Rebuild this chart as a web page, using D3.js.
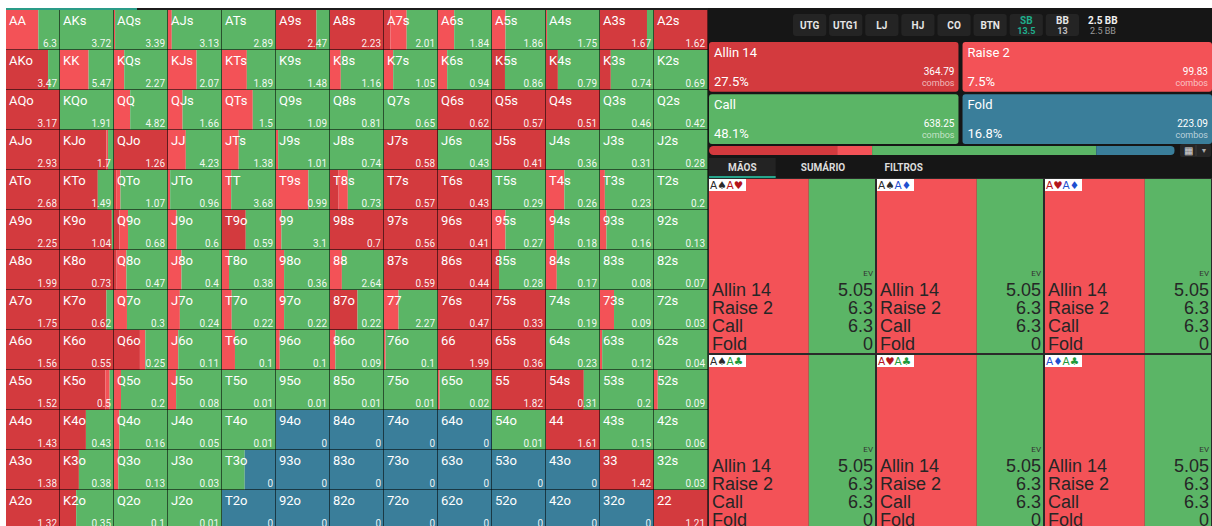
<!DOCTYPE html>
<html>
<head>
<meta charset="utf-8">
<script src="https://cdn.jsdelivr.net/npm/d3@7"></script>
<style>
body{margin:0;background:#fff;overflow:hidden}
svg{display:block;font-family:Roboto,"Liberation Sans",sans-serif}
</style>
</head>
<body>
<svg id="chart" width="1212" height="526"></svg>
<script>
// ---- data ----
const ranks = ["A","K","Q","J","T","9","8","7","6","5","4","3","2"]

// strategy frequencies (%) per hand cell, rows/cols follow ranks
const allinPct = [
  [0,0,0,0,0,75,100,12,0,0,0,87,100],
  [78,0,0,0,0,0,0,0,0,24,22,20,0],
  [100,0,0,0,0,0,0,0,100,100,100,0,0],
  [100,86,100,0,0,0,0,100,0,100,0,0,0],
  [100,70,4,0,0,0,16,100,100,0,0,0,0],
  [100,96,10,0,44,0,100,100,100,0,0,0,0],
  [100,100,5,0,0,0,0,100,100,13,0,0,0],
  [100,86,0,0,0,0,51,0,100,100,0,0,0],
  [100,100,48,0,0,0,0,0,100,100,0,0,0],
  [100,84,0,0,0,0,0,0,0,100,70,0,0],
  [100,48,0,0,0,0,0,0,0,0,100,0,0],
  [100,35,0,0,0,0,0,0,0,0,0,100,0],
  [100,30,0,0,0,0,0,0,0,0,0,0,100]
]
const raisePct = [
  [60,0,2,7,0,0,0,30,30,25,2,0,0],
  [0,53,19,53,46,0,20,17,17,0,0,0,0],
  [0,0,30,27,57,0,0,0,0,0,0,0,0],
  [0,3,0,33,31,4,0,0,0,0,0,0,0],
  [0,0,8,4,17,60,17,0,0,0,34,9,0],
  [0,0,16,16,0,10,0,0,0,25,15,12,0],
  [0,0,18,25,13,15,22,0,0,0,20,0,0],
  [0,0,24,22,18,15,0,27,0,0,0,26,0],
  [0,0,10,19,24,7,10,3,0,0,0,4,0],
  [0,8,13,15,0,0,0,0,3,0,0,0,7],
  [0,0,10,0,0,0,0,0,0,0,0,0,0],
  [0,0,8,0,0,0,0,0,0,0,0,0,0],
  [0,0,0,0,0,0,0,0,0,0,0,0,0]
]
const callPct = [
  [40,100,98,93,100,25,0,58,70,75,98,13,0],
  [22,47,81,47,54,100,80,83,83,76,78,80,100],
  [0,100,70,73,43,100,100,100,0,0,0,100,100],
  [0,11,0,67,69,96,100,0,100,0,100,100,100],
  [0,30,88,96,83,40,67,0,0,100,66,91,100],
  [0,4,74,84,56,90,0,0,0,75,85,88,100],
  [0,0,77,75,87,85,78,0,0,87,80,100,100],
  [0,14,76,78,82,85,49,73,0,0,100,74,100],
  [0,0,42,81,76,93,90,97,0,0,100,96,100],
  [0,8,87,85,100,100,100,100,97,0,30,100,93],
  [0,52,90,100,100,0,0,0,0,100,0,100,100],
  [0,65,92,100,42,0,0,0,0,0,0,0,100],
  [0,70,100,100,0,0,0,0,0,0,0,0,0]
]
const foldPct = [
  [0,0,0,0,0,0,0,0,0,0,0,0,0],
  [0,0,0,0,0,0,0,0,0,0,0,0,0],
  [0,0,0,0,0,0,0,0,0,0,0,0,0],
  [0,0,0,0,0,0,0,0,0,0,0,0,0],
  [0,0,0,0,0,0,0,0,0,0,0,0,0],
  [0,0,0,0,0,0,0,0,0,0,0,0,0],
  [0,0,0,0,0,0,0,0,0,0,0,0,0],
  [0,0,0,0,0,0,0,0,0,0,0,0,0],
  [0,0,0,0,0,0,0,0,0,0,0,0,0],
  [0,0,0,0,0,0,0,0,0,0,0,0,0],
  [0,0,0,0,0,100,100,100,100,0,0,0,0],
  [0,0,0,0,58,100,100,100,100,100,100,0,0],
  [0,0,0,0,100,100,100,100,100,100,100,100,0]
]
const evValues = [
  [6.3,3.72,3.39,3.13,2.89,2.47,2.23,2.01,1.84,1.86,1.75,1.67,1.62],
  [3.47,5.47,2.27,2.07,1.89,1.48,1.16,1.05,0.94,0.86,0.79,0.74,0.69],
  [3.17,1.91,4.82,1.66,1.5,1.09,0.81,0.65,0.62,0.57,0.51,0.46,0.42],
  [2.93,1.7,1.26,4.23,1.38,1.01,0.74,0.58,0.43,0.41,0.36,0.31,0.28],
  [2.68,1.49,1.07,0.96,3.68,0.99,0.73,0.57,0.43,0.29,0.26,0.23,0.2],
  [2.25,1.04,0.68,0.6,0.59,3.1,0.7,0.56,0.41,0.27,0.18,0.16,0.13],
  [1.99,0.73,0.47,0.4,0.38,0.36,2.64,0.59,0.44,0.28,0.17,0.08,0.07],
  [1.75,0.62,0.3,0.24,0.22,0.22,0.22,2.27,0.47,0.33,0.19,0.09,0.03],
  [1.56,0.55,0.25,0.11,0.1,0.1,0.09,0.1,1.99,0.36,0.23,0.12,0.04],
  [1.52,0.5,0.2,0.08,0.01,0.01,0.01,0.01,0.02,1.82,0.31,0.2,0.09],
  [1.43,0.43,0.16,0.05,0.01,0,0,0,0,0.01,1.61,0.15,0.06],
  [1.38,0.38,0.13,0.03,0,0,0,0,0,0,0,1.42,0.03],
  [1.32,0.35,0.1,0.01,0,0,0,0,0,0,0,0,1.21]
]

const positions = ["UTG","UTG1","LJ","HJ","CO","BTN","SB","BB"]
const positionStacks = ["","","","","","","13.5","13"]
const potLabel = "2.5 BB"

const actionNames = ["Allin 14","Raise 2","Call","Fold"]
const actionShare = [27.5,7.5,48.1,16.8]
const actionCombos = [364.79,99.83,638.25,223.09]

const tabNames = ["MÃOS","SUMÁRIO","FILTROS"]

const comboCards = [["A♠","A♥"],["A♠","A♦"],["A♥","A♦"],["A♠","A♣"],["A♥","A♣"],["A♦","A♣"]]
const comboEV = [5.05,6.3,6.3,0]

// ---- styles ----
const actionColors = ["#d33a3e","#f35257","#5bb566","#3a7e9a"]
const suitColors = {"♠":"#2b2b2b","♥":"#b3141c","♦":"#1d4fd0","♣":"#1e9a3a"}

const svg = d3.select("#chart")

svg.append("rect").attr("width",1212).attr("height",526).attr("fill","#fff")

// right panel background
svg.append("rect")
  .attr("x",708).attr("y",8).attr("width",504).attr("height",518)
  .attr("fill","#161616")

// thin line over the grid
svg.append("rect").attr("x",6).attr("y",8).attr("width",702).attr("height",2).attr("fill","#1c1c1c")
svg.append("rect").attr("x",6).attr("y",8).attr("width",131).attr("height",2).attr("fill","#2a9c88")

// ---- hand grid ----
const x = d3.scaleBand().domain(d3.range(13)).range([6,708])
const y = d3.scaleBand().domain(d3.range(13)).range([10,530])
const inner = d3.scaleLinear().domain([0,100]).range([0,x.bandwidth()])

const cells = []
ranks.forEach((r1,i) => ranks.forEach((r2,j) => {
  let label = i === j ? r1 + r2 : (j > i ? r1 + r2 + "s" : r2 + r1 + "o")
  cells.push({
    row: i, col: j, label,
    ev: evValues[i][j],
    parts: [allinPct[i][j], raisePct[i][j], callPct[i][j], foldPct[i][j]]
  })
}))

function segments(parts){
  let acc = 0
  return parts.map((v,k) => {
    const s = {x0: acc, x1: acc + v, k}
    acc += v
    return s
  }).filter(s => s.x1 > s.x0)
}

const cellG = svg.append("g").selectAll("g")
  .data(cells)
  .join("g")
  .attr("transform", d => `translate(${x(d.col)},${y(d.row)})`)

cellG.selectAll("rect")
  .data(d => segments(d.parts))
  .join("rect")
  .attr("x", s => inner(s.x0))
  .attr("width", s => inner(s.x1) - inner(s.x0))
  .attr("y",0)
  .attr("height", y.bandwidth())
  .attr("fill", s => actionColors[s.k])

// single 1px separators between cells
const bw = x.bandwidth(), bh = y.bandwidth()
cellG.append("path")
  .attr("d", `M${bw-0.5},0V${bh}M0,${bh-0.5}H${bw}`)
  .attr("fill","none")
  .attr("stroke","rgba(0,0,0,0.55)")

cellG.append("text")
  .attr("x",3).attr("y",15)
  .attr("font-size",13)
  .attr("fill","#fff")
  .text(d => d.label)

cellG.append("text")
  .attr("x", bw-3).attr("y",37)
  .attr("text-anchor","end")
  .attr("font-size",10)
  .attr("fill","rgba(255,255,255,0.92)")
  .text(d => String(d.ev))

// ---- position header ----
const px = d3.scaleBand().domain(positions).range([793,1079]).paddingInner(0.08)

const posG = svg.append("g").selectAll("g")
  .data(positions)
  .join("g")
  .attr("transform", d => `translate(${px(d)},14)`)

posG.append("rect")
  .attr("width", px.bandwidth()).attr("height",22).attr("rx",3)
  .attr("fill","#242424")

posG.append("text")
  .attr("x", px.bandwidth()/2)
  .attr("y", (d,i) => positionStacks[i] ? 10 : 15)
  .attr("text-anchor","middle")
  .attr("font-size",10).attr("font-weight","bold")
  .attr("fill", d => d === "SB" ? "#1fae8c" : "#e6e6e6")
  .text(d => d)

posG.append("text")
  .attr("x", px.bandwidth()/2).attr("y",19.5)
  .attr("text-anchor","middle")
  .attr("font-size",9).attr("font-weight","bold")
  .attr("fill", d => d === "SB" ? "#1fae8c" : "#bdbdbd")
  .text((d,i) => positionStacks[i])

svg.append("text")
  .attr("x",1088).attr("y",24)
  .attr("font-size",10).attr("font-weight","bold").attr("fill","#f0f0f0")
  .text(potLabel)
svg.append("text")
  .attr("x",1090).attr("y",34)
  .attr("font-size",9).attr("fill","#9a9a9a")
  .text(potLabel)

// ---- action summary boxes ----
const bx = d3.scaleBand().domain([0,1]).range([709,1212]).paddingInner(0.016)
const by = d3.scaleBand().domain([0,1]).range([42,144]).paddingInner(0.05)
const order = [0,1,2,3]

const boxG = svg.append("g").selectAll("g")
  .data(order)
  .join("g")
  .attr("transform", i => `translate(${bx(i % 2)},${by(Math.floor(i / 2))})`)

boxG.append("rect")
  .attr("width", bx.bandwidth()).attr("height", by.bandwidth()).attr("rx",3)
  .attr("fill", i => actionColors[i])

boxG.append("text")
  .attr("x",5).attr("y",15)
  .attr("font-size",13).attr("fill","#fff")
  .text(i => actionNames[i])

boxG.append("text")
  .attr("x",5).attr("y",44)
  .attr("font-size",13).attr("fill","#fff")
  .text(i => actionShare[i] + "%")

boxG.append("text")
  .attr("x", bx.bandwidth()-4).attr("y",33)
  .attr("text-anchor","end")
  .attr("font-size",10).attr("fill","#fff")
  .text(i => actionCombos[i].toFixed(2))

boxG.append("text")
  .attr("x", bx.bandwidth()-4).attr("y",44)
  .attr("text-anchor","end")
  .attr("font-size",9).attr("fill","rgba(255,255,255,0.65)")
  .text("combos")

// ---- strategy bar ----
const barX = d3.scaleLinear().domain([0,100]).range([709,1175])
let defs = svg.append("defs")
defs.append("clipPath").attr("id","barClip")
  .append("rect")
  .attr("x",709).attr("y",146).attr("width",466).attr("height",9).attr("rx",4.5)

svg.append("g").attr("clip-path","url(#barClip)")
  .selectAll("rect")
  .data(segments(actionShare))
  .join("rect")
  .attr("x", s => barX(s.x0))
  .attr("width", s => barX(s.x1) - barX(s.x0))
  .attr("y",146).attr("height",9)
  .attr("fill", s => actionColors[s.k])

svg.append("rect")
  .attr("x",1180).attr("y",144).attr("width",31).attr("height",13).attr("rx",2)
  .attr("fill","#262626")
svg.append("line")
  .attr("x1",1196).attr("x2",1196).attr("y1",145).attr("y2",156)
  .attr("stroke","#3a3a3a")
svg.append("text")
  .attr("x",1188).attr("y",154).attr("text-anchor","middle")
  .attr("font-size",10).attr("fill","#ddd")
  .text("▦")
svg.append("text")
  .attr("x",1204).attr("y",153).attr("text-anchor","middle")
  .attr("font-size",7).attr("fill","#aaa")
  .text("▼")

// ---- tabs ----
const tx = d3.scaleBand().domain(tabNames).range([709,951])
svg.append("rect")
  .attr("x",709).attr("y",158).attr("width", tx.bandwidth()-14).attr("height",19)
  .attr("fill","#232323")
svg.append("rect")
  .attr("x",709).attr("y",176).attr("width", tx.bandwidth()-14).attr("height",2)
  .attr("fill","#27a58c")
svg.append("g").selectAll("text")
  .data(tabNames)
  .join("text")
  .attr("x", d => tx(d) + (tx.bandwidth()-14)/2)
  .attr("y",171)
  .attr("text-anchor","middle")
  .attr("font-size",10).attr("font-weight","bold")
  .attr("fill","#dcdcdc")
  .text(d => d)

// ---- combo cells ----
const cx = d3.scaleBand().domain([0,1,2]).range([708,1212])
const cy = d3.scaleBand().domain([0,1]).range([178,530])
const comboInner = d3.scaleLinear().domain([0,100]).range([0,cx.bandwidth()])
const aaParts = [allinPct[0][0], raisePct[0][0], callPct[0][0], foldPct[0][0]]

const comboG = svg.append("g").selectAll("g")
  .data(comboCards)
  .join("g")
  .attr("transform", (d,i) => `translate(${cx(i % 3)},${cy(Math.floor(i / 3))})`)

comboG.selectAll("rect.seg")
  .data(segments(aaParts))
  .join("rect")
  .attr("class","seg")
  .attr("x", s => comboInner(s.x0))
  .attr("width", s => comboInner(s.x1) - comboInner(s.x0))
  .attr("y",0).attr("height", cy.bandwidth())
  .attr("fill", s => actionColors[s.k])

comboG.append("rect")
  .attr("x",0.5).attr("y",0.5)
  .attr("width", cx.bandwidth()-1).attr("height", cy.bandwidth()-1)
  .attr("fill","none").attr("stroke","#2a2a2a")

comboG.append("rect")
  .attr("x",1).attr("y",1).attr("width",37).attr("height",12)
  .attr("fill","#fff")

let cardText = comboG.append("text")
  .attr("x",2).attr("y",11)
  .attr("font-family","'DejaVu Sans',sans-serif")
  .attr("font-size",10.5)
cardText.selectAll("tspan")
  .data(d => d)
  .join("tspan")
  .attr("fill", c => suitColors[c.slice(-1)])
  .text(c => c)

comboG.append("text")
  .attr("x", cx.bandwidth()-3).attr("y",98)
  .attr("text-anchor","end")
  .attr("font-size",8).attr("fill","#333")
  .text("EV")

comboG.selectAll("text.act")
  .data(actionNames)
  .join("text")
  .attr("class","act")
  .attr("x",4)
  .attr("y",(d,k) => 118 + k*18)
  .attr("font-family","'Liberation Sans',Arial,sans-serif")
  .attr("font-size",18).attr("fill","#262626")
  .text(d => d)

comboG.selectAll("text.ev")
  .data(comboEV)
  .join("text")
  .attr("class","ev")
  .attr("x", cx.bandwidth()-3)
  .attr("y",(d,k) => 118 + k*18)
  .attr("text-anchor","end")
  .attr("font-family","'Liberation Sans',Arial,sans-serif")
  .attr("font-size",18).attr("fill","#262626")
  .text(d => String(d))
</script>
</body>
</html>
